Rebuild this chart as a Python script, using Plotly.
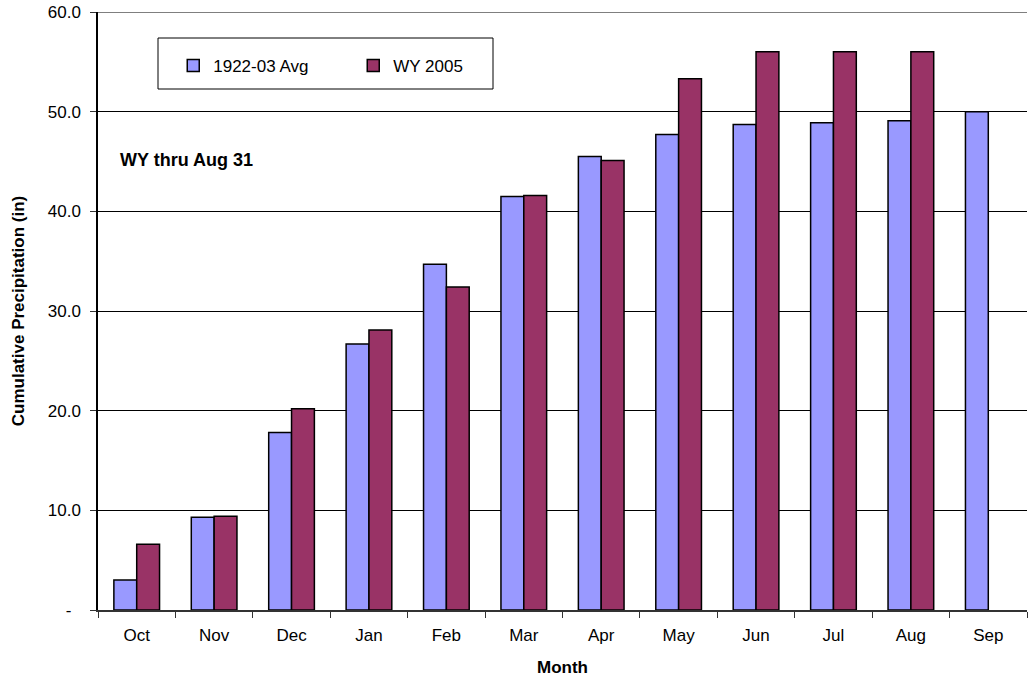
import plotly.graph_objects as go

months = ["Oct", "Nov", "Dec", "Jan", "Feb", "Mar", "Apr", "May", "Jun", "Jul", "Aug", "Sep"]
avg_1922_03 = [3.0, 9.3, 17.8, 26.7, 34.7, 41.5, 45.5, 47.7, 48.7, 48.9, 49.1, 50.0]
wy_2005 = [6.6, 9.4, 20.2, 28.1, 32.4, 41.6, 45.1, 53.3, 56.0, 56.0, 56.0, None]
y_tickvals = [0, 10, 20, 30, 40, 50, 60]
y_ticktext = ["-\u00a0\u00a0", "10.0", "20.0", "30.0", "40.0", "50.0", "60.0"]

FONT = "Liberation Sans, Arial, sans-serif"

fig = go.Figure()
fig.add_trace(go.Bar(x=months, y=avg_1922_03, name="1922-03 Avg",
                     marker=dict(color="#9999FF", line=dict(color="black", width=1.5))))
fig.add_trace(go.Bar(x=months, y=wy_2005, name="WY 2005",
                     marker=dict(color="#993366", line=dict(color="black", width=1.5))))

fig.update_layout(
    width=1029, height=683,
    margin=dict(l=98, r=2, t=12, b=73),
    paper_bgcolor="white", plot_bgcolor="white",
    font=dict(family=FONT, size=17, color="black"),
    barmode="group", bargap=0.41, bargroupgap=0,
    showlegend=True,
    legend=dict(orientation="h", x=0.081, y=0.94, xanchor="left", yanchor="top",
                bgcolor="rgba(0,0,0,0)", borderwidth=0,
                font=dict(family=FONT, size=17), entrywidth=135, entrywidthmode="pixels",
                traceorder="normal"),
    xaxis=dict(title=dict(text="<b>Month</b>", font=dict(size=17), standoff=17),
               showline=True, linecolor="#333333", linewidth=1.5,
               ticks="outside", tickson="boundaries", ticklen=6, tickcolor="#333333",
               tickfont=dict(size=17), ticklabelstandoff=9, showgrid=False),
    yaxis=dict(title=dict(text="<b>Cumulative Precipitation (in)</b>", font=dict(size=17), standoff=19),
               range=[0, 60], tickvals=y_tickvals, ticktext=y_ticktext,
               showline=True, linecolor="black", linewidth=1.5,
               ticks="outside", ticklen=6, tickcolor="#333333",
               tickfont=dict(size=17), ticklabelstandoff=6,
               showgrid=True, gridcolor="black", gridwidth=1, zeroline=False),
    shapes=[dict(type="rect", xref="paper", yref="paper",
                 x0=(158 - 98) / 929, x1=(493 - 98) / 929,
                 y0=(610 - 89) / 598, y1=(610 - 38) / 598,
                 line=dict(color="black", width=1), fillcolor="white", layer="above"),
            dict(type="line", xref="paper", yref="y", x0=0, x1=1, y0=60, y1=60,
                 line=dict(color="black", width=1), layer="below")],
    annotations=[dict(text="<b>WY thru Aug 31</b>", xref="paper", yref="paper",
                      x=(118 - 98) / 929, y=(610 - 160) / 598, xanchor="left", yanchor="middle",
                      showarrow=False, font=dict(size=18))],
)

fig.write_html("out.html", config={"displayModeBar": False},
               post_script="document.body.style.margin='0';")
